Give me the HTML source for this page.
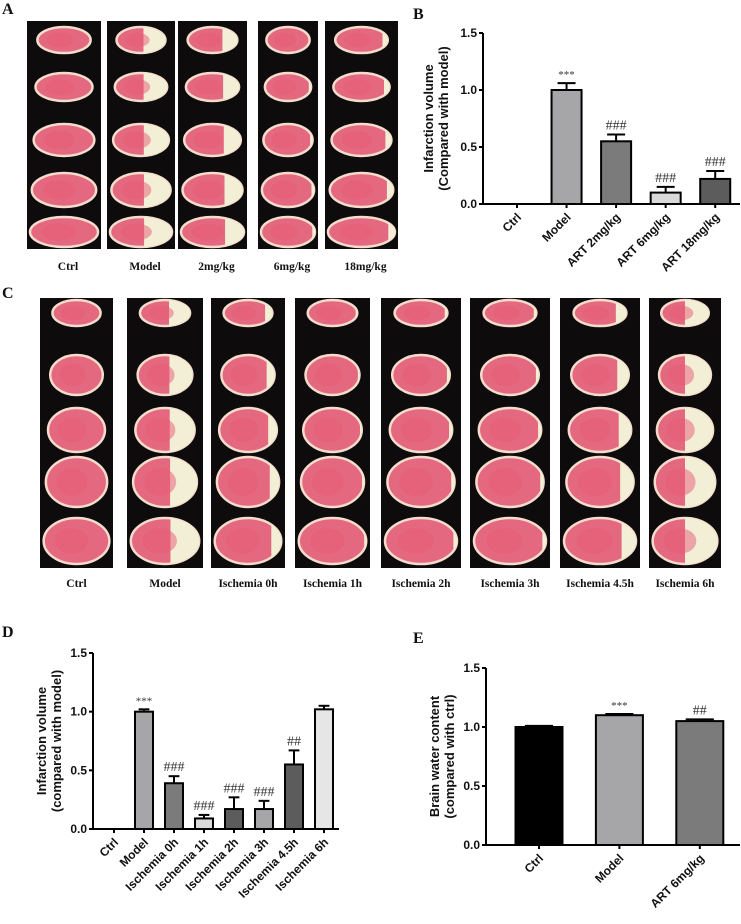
<!DOCTYPE html>
<html><head><meta charset="utf-8">
<style>
html,body{margin:0;padding:0;background:#fff;}
svg{display:block;}
.ax{font-family:"Liberation Sans",sans-serif;font-weight:bold;font-size:12px;fill:#111;}
.pl{font-family:"Liberation Serif",serif;font-weight:bold;font-size:16px;fill:#111;}
.cl{font-family:"Liberation Serif",serif;font-weight:bold;font-size:11.5px;fill:#111;}
.an{font-family:"Liberation Serif",serif;font-size:14px;fill:#333;}
</style></head>
<body>
<svg id="fig" width="741" height="924" viewBox="0 0 741 924" xmlns="http://www.w3.org/2000/svg">
<text class="pl" x="2" y="14">A</text>
<text class="pl" x="413" y="19">B</text>
<text class="pl" x="2" y="298">C</text>
<text class="pl" x="2" y="637">D</text>
<text class="pl" x="413" y="643">E</text>
<g id="photos"></g>
<g id="charts"></g>
</svg>
<script>
// ---- Photo panels (schematic) ----
const aGroups = ["Ctrl","Model","2mg/kg","6mg/kg","18mg/kg"];
const aInfarct = [0, 0.45, 0.3, 0.05, 0.1];
const cGroups = ["Ctrl","Model","Ischemia 0h","Ischemia 1h","Ischemia 2h","Ischemia 3h","Ischemia 4.5h","Ischemia 6h"];
const cInfarct = [0, 0.42, 0.15, 0.03, 0.05, 0.05, 0.2, 0.5];

const NS = "http://www.w3.org/2000/svg";
function mk(tag, attrs, parent){const e=document.createElementNS(NS,tag);for(const k in attrs)e.setAttribute(k,attrs[k]);parent.appendChild(e);return e;}
const photos = document.getElementById("photos");

function slice(g, cx, cy, rx, ry, inf, idx){
  const id = "clip"+idx;
  const cp = mk("clipPath",{id:id},g);
  mk("ellipse",{cx:cx,cy:cy,rx:rx,ry:ry},cp);
  const s = mk("ellipse",{cx:cx,cy:cy,rx:rx,ry:ry,fill:"#e4687f",stroke:"#f3dccb","stroke-width":2.5},g);
  
  
  if(inf>0){
    const w = rx*2*inf;
    mk("rect",{x:cx+rx-w,y:cy-ry,width:w,height:ry*2,fill:"#f3efd6","clip-path":"url(#"+id+")"},g);
  }
  mk("ellipse",{cx:cx-rx*0.15,cy:cy,rx:rx*0.5,ry:ry*0.55,fill:"#e85a75",opacity:0.5,"clip-path":"url(#"+id+")"},g);
}
let sid=0;
const aCols=[[27,101],[107,175],[178,247],[258,318],[325,398]];
const aRows=[[40,13],[87,14],[140,16],[190,17],[232,15]];
aGroups.forEach((name,i)=>{
  const g=mk("g",{},photos);
  
  
  const [x0,x1]=aCols[i];
  mk("rect",{x:x0,y:21,width:x1-x0,height:228,fill:"#0d0b0c"},g);
  aRows.forEach((r,j)=>{const rx=(x1-x0)*(0.36+j*0.025);slice(g,(x0+x1)/2,r[0],Math.min(rx,(x1-x0)/2-3),r[1],aInfarct[i]*(j<1&&i==3?0:1),sid++);});
  const t=mk("text",{class:"cl","text-anchor":"middle",x:(x0+x1)/2+4,y:270},photos);
  t.textContent=name;
  
  
});
const cCols=[[40,113],[127,203],[211,285],[295,370],[381,461],[470,550],[560,640],[649,721]];
const cRows=[[313,13],[375,20],[430,22],[482,25],[541,23]];
cGroups.forEach((name,i)=>{
  const g=mk("g",{},photos);
  
  
  const [x0,x1]=cCols[i];
  mk("rect",{x:x0,y:298,width:x1-x0,height:270,fill:"#0d0b0c"},g);
  cRows.forEach((r,j)=>{const rx=(x1-x0)*(0.33+j*0.03);slice(g,(x0+x1)/2,r[0],Math.min(rx,(x1-x0)/2-3),r[1],cInfarct[i],sid++);});
  const t=mk("text",{class:"cl","text-anchor":"middle",x:(x0+x1)/2,y:587},photos);
  t.textContent=name;
  
  
});

// ---- Bar charts ----
const bCats = ["Ctrl","Model","ART 2mg/kg","ART 6mg/kg","ART 18mg/kg"];
const bVals = [0, 1.0, 0.55, 0.10, 0.22];
const bErr = [0, 0.06, 0.06, 0.05, 0.07];
const bMarks = ["","***","###","###","###"];
const bColors = ["#000","#a6a6a8","#7b7b7b","#d9d9d9","#5c5c5c"];

const dCats = ["Ctrl","Model","Ischemia 0h","Ischemia 1h","Ischemia 2h","Ischemia 3h","Ischemia 4.5h","Ischemia 6h"];
const dVals = [0, 1.0, 0.39, 0.09, 0.17, 0.17, 0.55, 1.02];
const dErr = [0, 0.02, 0.06, 0.03, 0.10, 0.07, 0.12, 0.03];
const dMarks = ["","***","###","###","###","###","##",""];
const dColors = ["#000","#a6a6a8","#7b7b7b","#d9d9d9","#5c5c5c","#a6a6a8","#5c5c5c","#e6e6e6"];

const eCats = ["Ctrl","Model","ART 6mg/kg"];
const eVals = [1.0, 1.1, 1.05];
const eErr = [0.01, 0.01, 0.015];
const eMarks = ["","***","##"];
const eColors = ["#000","#a6a6a8","#7b7b7b"];

const yTicks = [0, 0.5, 1.0, 1.5];
const yTickLabels = ["0.0","0.5","1.0","1.5"];

const charts=document.getElementById("charts");
function chart(cfg){
  const g=mk("g",{},charts);
  
  
  const y=v=>cfg.y0-(v/1.5)*(cfg.y0-cfg.y15);
  const n=cfg.cats.length;
  const step=(cfg.xEnd-cfg.first)/(n-0.5);
  const x=i=>cfg.first+i*step;
  cfg.vals.forEach((v,i)=>{
    if(v<=0)return;
    const cx=x(i), w=cfg.bw;
    const top=y(v+cfg.err[i]);
    const el=mk("line",{x1:cx,x2:cx,y1:y(v),y2:top,stroke:"#000","stroke-width":2},g);
    
    
    mk("line",{x1:cx-w*0.3,x2:cx+w*0.3,y1:top,y2:top,stroke:"#000","stroke-width":2},g);
    const b=mk("rect",{x:cx-w/2,y:y(v),width:w,height:cfg.y0-y(v),fill:cfg.colors[i],stroke:"#000","stroke-width":2},g);
    
    
    if(cfg.marks[i]){
      const t=mk("text",{class:"an","text-anchor":"middle",x:cx,y:top-5},g);
      t.textContent=cfg.marks[i];
      if(cfg.marks[i]==="***")t.setAttribute("style","font-size:11px");
      
      
    }
  });
  mk("line",{x1:cfg.ax,x2:cfg.ax,y1:cfg.y15,y2:cfg.y0+1,stroke:"#000","stroke-width":2},g);
  const xa=mk("line",{x1:cfg.ax-4,x2:cfg.xEnd,y1:cfg.y0,y2:cfg.y0,stroke:"#000","stroke-width":2},g);
  
  
  yTicks.forEach((t,i)=>{
    mk("line",{x1:cfg.ax-4,x2:cfg.ax,y1:y(t),y2:y(t),stroke:"#000","stroke-width":2},g);
    const tl=mk("text",{class:"ax","text-anchor":"end",x:cfg.ax-6,y:y(t)+4},g);
    tl.textContent=yTickLabels[i];
    
    
  });
  cfg.cats.forEach((c,i)=>{
    const cx=x(i);
    mk("line",{x1:cx,x2:cx,y1:cfg.y0,y2:cfg.y0+4,stroke:"#000","stroke-width":2},g);
    const tl=mk("text",{class:"ax","text-anchor":"end",transform:`translate(${cx+5},${cfg.y0+14}) rotate(-45)`},g);
    tl.textContent=c;
    
    
  });
  const ym=(cfg.y0+cfg.y15)/2;
  cfg.title.forEach((line,k)=>{
    const t=mk("text",{class:"ax","text-anchor":"middle",transform:`translate(${cfg.tx+k*15},${ym}) rotate(-90)`},g);
    t.setAttribute("style","font-size:13px");
    t.textContent=line;
    
    
  });
}
chart({name:"panel-b-chart",cats:bCats,vals:bVals,err:bErr,marks:bMarks,colors:bColors,ax:483,y0:204,y15:33,first:517,xEnd:740,bw:30,tx:433,title:["Infarction volume","(Compared with model)"]});
chart({name:"panel-d-chart",cats:dCats,vals:dVals,err:dErr,marks:dMarks,colors:dColors,ax:93,y0:829,y15:653,first:114,xEnd:339,bw:18,tx:46,title:["Infarction volume","(compared with model)"]});
chart({name:"panel-e-chart",cats:eCats,vals:eVals,err:eErr,marks:eMarks,colors:eColors,ax:486,y0:845,y15:668,first:539,xEnd:740,bw:47,tx:439,title:["Brain water content","(compared with ctrl)"]});
</script>
</body></html>
